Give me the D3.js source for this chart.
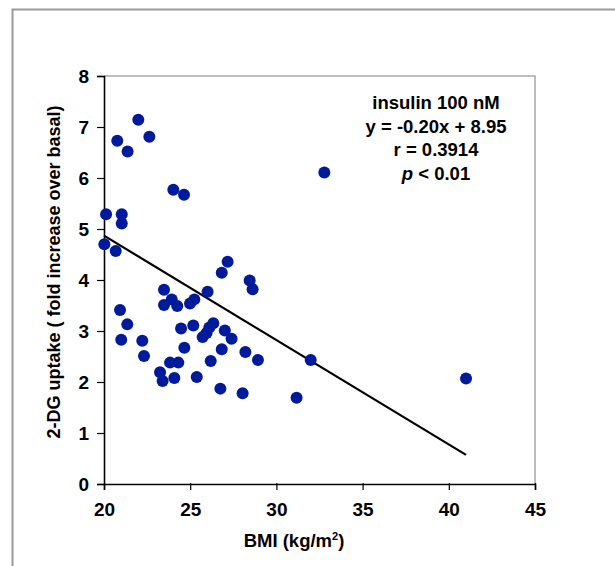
<!DOCTYPE html>
<html>
<head>
<meta charset="utf-8">
<script src="https://cdn.jsdelivr.net/npm/d3@7"></script>
<style>
  body { margin: 0; background: #fff; }
  text { font-family: "Liberation Sans", Arial, sans-serif; font-weight: bold; fill: #000; }
</style>
</head>
<body>
<script>
// BMI vs 2-DG uptake, insulin 100 nM

var width = 615,
    height = 566;

// data
var bmi = [21.99, 20.77, 21.37, 22.63, 20.12, 21.03, 21.03, 20.02, 20.68, 24.02,
           24.64, 32.78, 26.83, 27.17, 28.45, 28.62, 23.48, 26.01, 23.93, 23.48,
           24.25, 24.99, 25.24, 20.93, 21.35, 21.00, 22.22, 22.32, 24.47, 25.18,
           25.72, 25.95, 26.11, 26.34, 27.01, 27.40, 24.66, 26.83, 28.20, 28.93,
           31.99, 26.19, 23.83, 24.31, 23.25, 23.40, 24.08, 25.38, 26.75, 28.04,
           31.17, 41.00];
var uptake = [7.14, 6.73, 6.52, 6.81, 5.29, 5.29, 5.11, 4.70, 4.57, 5.77,
              5.67, 6.11, 4.14, 4.36, 3.99, 3.82, 3.81, 3.77, 3.62, 3.51,
              3.49, 3.54, 3.62, 3.41, 3.13, 2.83, 2.81, 2.51, 3.05, 3.11,
              2.88, 2.96, 3.07, 3.15, 3.01, 2.85, 2.67, 2.64, 2.59, 2.43,
              2.43, 2.41, 2.38, 2.38, 2.19, 2.02, 2.08, 2.10, 1.87, 1.78,
              1.69, 2.07];

var fitX = [20, 41];
var fitY = [4.87, 0.57];

var xTicks = [20, 25, 30, 35, 40, 45];
var yTicks = [0, 1, 2, 3, 4, 5, 6, 7, 8];

var noteLines = ["insulin 100 nM", "y = -0.20x + 8.95", "r = 0.3914"];

var margin = {left: 104, top: 76, right: 80, bottom: 82};

var svg = d3.select("body").append("svg")
    .attr("width", width)
    .attr("height", height);

// outer frame (cut off at right / bottom)
svg.append("rect")
    .attr("x", 12.5).attr("y", 9.5)
    .attr("width", 640).attr("height", 600)
    .attr("fill", "none")
    .attr("stroke", "#9a9a9a")
    .attr("stroke-width", 2);

var x = d3.scaleLinear()
    .domain([20, 45])
    .range([margin.left, width - margin.right]);

var y = d3.scaleLinear()
    .domain([0, 8])
    .range([height - margin.bottom, margin.top]);

// plot box top + right border
svg.append("path")
    .attr("d", "M" + x(20) + "," + y(8) + "H" + x(45) + "V" + y(0))
    .attr("fill", "none")
    .attr("stroke", "#a8a8a8")
    .attr("stroke-width", 1.5);

var xAxis = svg.append("g")
    .attr("transform", "translate(0," + y(0) + ")")
    .call(d3.axisBottom(x).tickValues(xTicks).tickSize(6).tickPadding(13));

var yAxis = svg.append("g")
    .attr("transform", "translate(" + x(20) + ",0)")
    .call(d3.axisLeft(y).tickValues(yTicks).tickSize(7).tickPadding(8));

[xAxis, yAxis].forEach(function (a) {
    a.selectAll("path.domain").attr("stroke", "#000").attr("stroke-width", 1.6);
    a.selectAll(".tick line").attr("stroke", "#000").attr("stroke-width", 1.2);
    a.selectAll(".tick text")
        .style("font-family", "Liberation Sans, Arial, sans-serif")
        .style("font-weight", "bold")
        .style("font-size", "19px");
});
xAxis.selectAll(".tick line").attr("y1", -1);
yAxis.selectAll(".tick text").attr("dy", "0.36em");

// regression line
var line = d3.line()
    .x(function (d) { return x(d[0]); })
    .y(function (d) { return y(d[1]); });

svg.append("path")
    .datum(d3.zip(fitX, fitY))
    .attr("d", line)
    .attr("fill", "none")
    .attr("stroke", "#000")
    .attr("stroke-width", 2.2);

// points
svg.append("g").selectAll("circle")
    .data(d3.zip(bmi, uptake))
    .enter().append("circle")
    .attr("cx", function (d) { return x(d[0]); })
    .attr("cy", function (d) { return y(d[1]); })
    .attr("r", 6)
    .attr("fill", "#001a9c");

// annotation
var note = svg.append("g").attr("transform", "translate(436,0)");
noteLines.forEach(function (t, i) {
    note.append("text")
        .attr("x", 0).attr("y", 109 + i * 23.5)
        .attr("text-anchor", "middle")
        .style("font-size", "18.5px")
        .text(t);
});
var pt = note.append("text")
    .attr("x", 0).attr("y", 109 + 3 * 23.5)
    .attr("text-anchor", "middle")
    .style("font-size", "18.5px");
pt.append("tspan").style("font-style", "italic").text("p");
pt.append("tspan").text(" < 0.01");

// axis titles
var xt = svg.append("text")
    .attr("x", 294).attr("y", 547)
    .attr("text-anchor", "middle")
    .style("font-size", "18.5px");
xt.append("tspan").text("BMI (kg/m");
xt.append("tspan").attr("dy", -7).style("font-size", "11px").text("2");
xt.append("tspan").attr("dy", 7).text(")");

svg.append("text")
    .attr("transform", "translate(60,272) rotate(-90)")
    .attr("text-anchor", "middle")
    .style("font-size", "18px")
    .text("2-DG uptake ( fold increase over basal)");
</script>
</body>
</html>
